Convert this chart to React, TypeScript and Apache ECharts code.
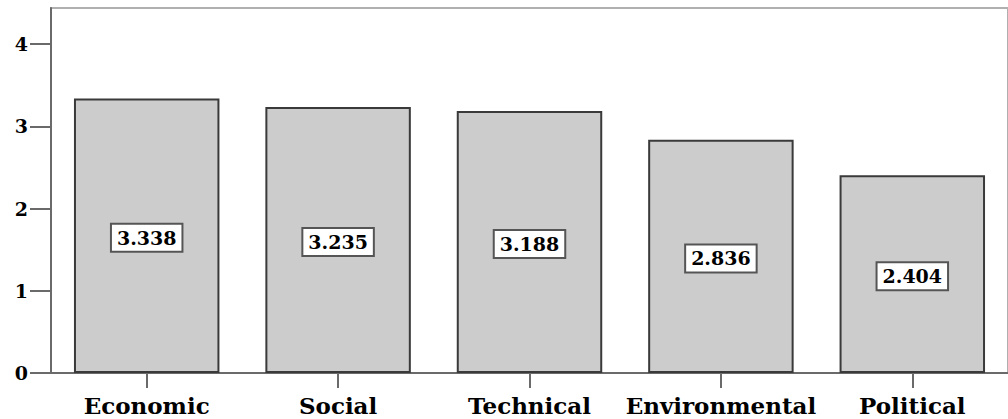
import React, { useEffect, useRef } from "react";
import * as echarts from "echarts";

const categories = ["Economic", "Social", "Technical", "Environmental", "Political"];
const values = [3.338, 3.235, 3.188, 2.836, 2.404];
const yMax = 4.44;

export default function App() {
  const ref = useRef<HTMLDivElement>(null);
  useEffect(() => {
    if (!ref.current) return;
    const chart = echarts.init(ref.current, null, { renderer: "svg" });
    chart.setOption({
      animation: false,
      grid: {
        left: 51,
        top: 8,
        width: 965,
        height: 365,
        show: true,
        borderColor: "#b0b0b0",
        borderWidth: 2,
        backgroundColor: "transparent",
      },
      xAxis: {
        type: "category",
        data: categories,
        axisLine: { show: true, lineStyle: { color: "#6a6a6a", width: 2 } },
        axisTick: { show: true, inside: false, alignWithLabel: true, interval: 0, length: 15, lineStyle: { color: "#6a6a6a", width: 2 } },
        axisLabel: {
          interval: 0,
          margin: 21,
          color: "#000",
          fontFamily: "DejaVu Serif",
          fontWeight: "bold",
          fontSize: 23,
          lineHeight: 23,
        },
      },
      yAxis: {
        type: "value",
        min: 0,
        max: yMax,
        interval: 1,
        splitLine: { show: false },
        axisLine: { show: true, lineStyle: { color: "#6a6a6a", width: 2 } },
        axisTick: { show: true, inside: false, length: 21, lineStyle: { color: "#6a6a6a", width: 2 } },
        axisLabel: {
          margin: 23,
          color: "#000",
          fontFamily: "DejaVu Serif",
          fontWeight: "bold",
          fontSize: 19,
          showMaxLabel: false,
        },
      },
      series: [
        {
          type: "bar",
          data: values,
          barCategoryGap: "24%",
          itemStyle: { color: "#cccccc", borderColor: "#3a3a3a", borderWidth: 2 },
          label: {
            show: true,
            position: "inside",
            offset: [0, 2],
            formatter: (p: any) => p.value.toFixed(3),
            color: "#000",
            fontFamily: "DejaVu Serif",
            fontWeight: "bold",
            fontSize: 19,
            backgroundColor: "#ffffff",
            borderColor: "#555555",
            borderWidth: 2,
            padding: [4, 5, 3, 5],
          },
        },
      ],
    });
    return () => chart.dispose();
  }, []);
  return <div ref={ref} style={{ width: 1008, height: 419, position: "absolute", left: 0, top: 0 }} />;
}
